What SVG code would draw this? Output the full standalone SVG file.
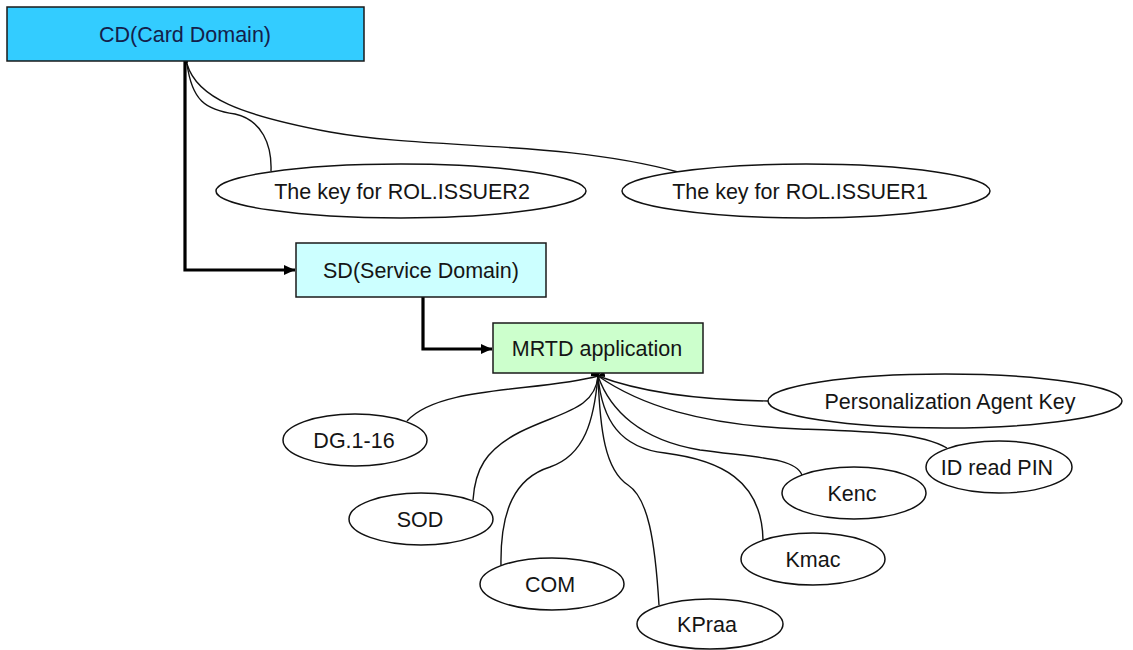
<svg xmlns="http://www.w3.org/2000/svg" width="1133" height="650" viewBox="0 0 1133 650">
  <style>
    .box { stroke: #1a1a1a; stroke-width: 1.5; }
    .key { fill: #ffffff; stroke: #111111; stroke-width: 1.5; }
    .lbl { font-family: "Liberation Sans", Arial, sans-serif; font-size: 21.5px; fill: #151515; text-anchor: middle; }
    .link { fill: none; stroke: #111111; stroke-width: 1.4; marker-start: url(#tip); }
    .flow { fill: none; stroke: #000000; stroke-width: 3.2; stroke-linejoin: miter; marker-end: url(#head); }
  </style>
  <defs>
    <marker id="head" markerWidth="12" markerHeight="12" refX="11" refY="6" orient="auto" markerUnits="userSpaceOnUse">
      <path d="M0,1 L11,6 L0,11 Z" fill="#000000"/>
    </marker>
    <marker id="tip" markerWidth="8" markerHeight="8" refX="1" refY="4" orient="auto-start-reverse" markerUnits="userSpaceOnUse">
      <path d="M8,1 L0,4 L8,7 Z" fill="#000000"/>
    </marker>
  </defs>

  <!-- connectors -->
  <g id="connectors">
    <!-- domain hierarchy -->
    <path class="flow" d="M185,61 V270 H295"/>
    <path class="flow" d="M423,297 V349 H492"/>
    <!-- keys of the card domain -->
    <path class="link" d="M187,64 C197,98 240,115 330,132 C430,150 560,140 678,172"/>
    <path class="link" d="M187,64 C192,100 205,110 235,114 C262,120 272,145 271,171"/>
    <!-- objects of the MRTD application -->
    <path class="link" d="M598,376 C540,392 440,385 407,421"/>
    <path class="link" d="M598,376 C595,410 560,412 520,432 C485,450 475,470 473,500"/>
    <path class="link" d="M598,376 C594,420 585,455 550,467 C515,478 500,510 501,566"/>
    <path class="link" d="M598,376 C600,430 605,470 628,485 C648,498 655,540 659,605"/>
    <path class="link" d="M598,376 C602,420 620,448 665,453 C720,460 762,480 763,540"/>
    <path class="link" d="M598,376 C610,410 640,440 700,450 C760,458 795,458 802,475"/>
    <path class="link" d="M598,376 C640,405 700,425 800,429 C880,432 920,433 947,448"/>
    <path class="link" d="M598,376 C640,392 700,400 768,401"/>
  </g>

  <g id="cd">
    <rect class="box" x="7" y="7" width="357" height="54" fill="#33ccff"/>
    <text class="lbl" x="185" y="42" style="fill:#14204a">CD(Card Domain)</text>
  </g>

  <g id="sd">
    <rect class="box" x="296" y="243" width="250" height="54" fill="#ccffff"/>
    <text class="lbl" x="421" y="278">SD(Service Domain)</text>
  </g>

  <g id="mrtd">
    <rect class="box" x="493" y="323" width="210" height="50" fill="#ccffcc"/>
    <text class="lbl" x="597" y="356">MRTD application</text>
  </g>

  <g id="key-issuer2">
    <ellipse class="key" cx="401" cy="191" rx="185" ry="27"/>
    <text class="lbl" x="402" y="199">The key for ROL.ISSUER2</text>
  </g>

  <g id="key-issuer1">
    <ellipse class="key" cx="806" cy="191" rx="184" ry="27"/>
    <text class="lbl" x="800" y="199">The key for ROL.ISSUER1</text>
  </g>

  <g id="dg">
    <ellipse class="key" cx="355" cy="440" rx="72" ry="26"/>
    <text class="lbl" x="354" y="448">DG.1-16</text>
  </g>

  <g id="sod">
    <ellipse class="key" cx="421" cy="519" rx="72" ry="26"/>
    <text class="lbl" x="420" y="527">SOD</text>
  </g>

  <g id="com">
    <ellipse class="key" cx="552" cy="584" rx="72" ry="26"/>
    <text class="lbl" x="550" y="592">COM</text>
  </g>

  <g id="kpraa">
    <ellipse class="key" cx="710" cy="624" rx="73" ry="25"/>
    <text class="lbl" x="707" y="632">KPraa</text>
  </g>

  <g id="kmac">
    <ellipse class="key" cx="813" cy="559" rx="72" ry="26"/>
    <text class="lbl" x="813" y="567">Kmac</text>
  </g>

  <g id="kenc">
    <ellipse class="key" cx="854" cy="493" rx="72" ry="26"/>
    <text class="lbl" x="852" y="501">Kenc</text>
  </g>

  <g id="id-read-pin">
    <ellipse class="key" cx="999" cy="467" rx="73" ry="26"/>
    <text class="lbl" x="997" y="475">ID read PIN</text>
  </g>

  <g id="pa-key">
    <ellipse class="key" cx="945" cy="401" rx="177" ry="27"/>
    <text class="lbl" x="950" y="409">Personalization Agent Key</text>
  </g>
</svg>
